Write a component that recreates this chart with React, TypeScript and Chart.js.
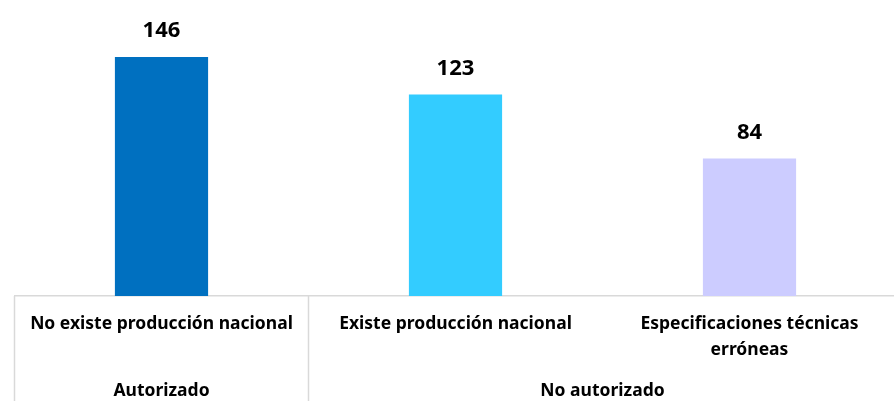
import React, { useEffect, useRef } from "react";
import { Chart, registerables } from "chart.js";

Chart.register(...registerables);

const categories: (string | string[])[] = [
  "No existe producción nacional",
  "Existe producción nacional",
  ["Especificaciones técnicas", "erróneas"],
];
const values = [146, 123, 84];
const barColors = ["#0070C0", "#33CCFF", "#CCCCFF"];
const groups = [
  { label: "Autorizado", from: 0, to: 0 },
  { label: "No autorizado", from: 1, to: 2 },
];

const FONT = "'Noto Sans', 'Open Sans', sans-serif";
const LINE = "#D9D9D9";

const overlay = {
  id: "overlay",
  afterDatasetsDraw(chart: any) {
    const { ctx, chartArea } = chart;
    const x = chart.scales.x;
    const meta = chart.getDatasetMeta(0);
    ctx.save();
    // data labels
    ctx.font = `bold 22px ${FONT}`;
    ctx.fillStyle = "#000";
    ctx.textAlign = "center";
    ctx.textBaseline = "middle";
    meta.data.forEach((bar: any, i: number) => {
      ctx.fillText(String(values[i]), bar.x, bar.y - 26);
    });
    // group separators and labels
    const half = (x.getPixelForValue(1) - x.getPixelForValue(0)) / 2;
    const bottom = chart.height;
    ctx.strokeStyle = LINE;
    ctx.lineWidth = 1.5;
    const edges: number[] = [];
    groups.forEach((g) => {
      edges.push(x.getPixelForValue(g.from) - half);
    });
    edges.push(x.getPixelForValue(categories.length - 1) + half);
    edges.forEach((ex) => {
      ctx.beginPath();
      ctx.moveTo(ex, chartArea.bottom);
      ctx.lineTo(ex, bottom);
      ctx.stroke();
    });
    ctx.font = `bold 17.5px ${FONT}`;
    ctx.fillStyle = "#000";
    groups.forEach((g) => {
      const cx = (x.getPixelForValue(g.from) + x.getPixelForValue(g.to)) / 2;
      ctx.fillText(g.label, cx, 391);
    });
    ctx.restore();
  },
};

export default function App() {
  const ref = useRef<HTMLCanvasElement>(null);
  useEffect(() => {
    const chart = new Chart(ref.current!, {
      type: "bar",
      data: {
        labels: categories,
        datasets: [
          {
            data: values,
            backgroundColor: barColors,
            barPercentage: 0.317,
            categoryPercentage: 1,
          },
        ],
      },
      options: {
        animation: false,
        responsive: false,
        layout: { padding: { top: 34, left: 14.5, right: 3.5, bottom: 0 } },
        plugins: { legend: { display: false }, tooltip: { enabled: false } },
        scales: {
          x: {
            grid: { display: false, drawTicks: false },
            border: { display: true, color: LINE, width: 1.5 },
            ticks: {
              color: "#000",
              font: { family: FONT, size: 17.5, weight: "bold", lineHeight: 1.5 },
              padding: 15,
              maxRotation: 0,
              autoSkip: false,
            },
            afterFit(scale: any) {
              scale.height = 105;
            },
          },
          y: {
            display: false,
            min: 0,
            max: 160,
          },
        },
      },
      plugins: [overlay],
    });
    return () => chart.destroy();
  }, []);
  return (
    <div style={{ position: "fixed", left: 0, top: 0, width: 894, height: 401, overflow: "hidden", background: "#fff" }}>
      <canvas ref={ref} width={900} height={401} style={{ display: "block" }} />
    </div>
  );
}
